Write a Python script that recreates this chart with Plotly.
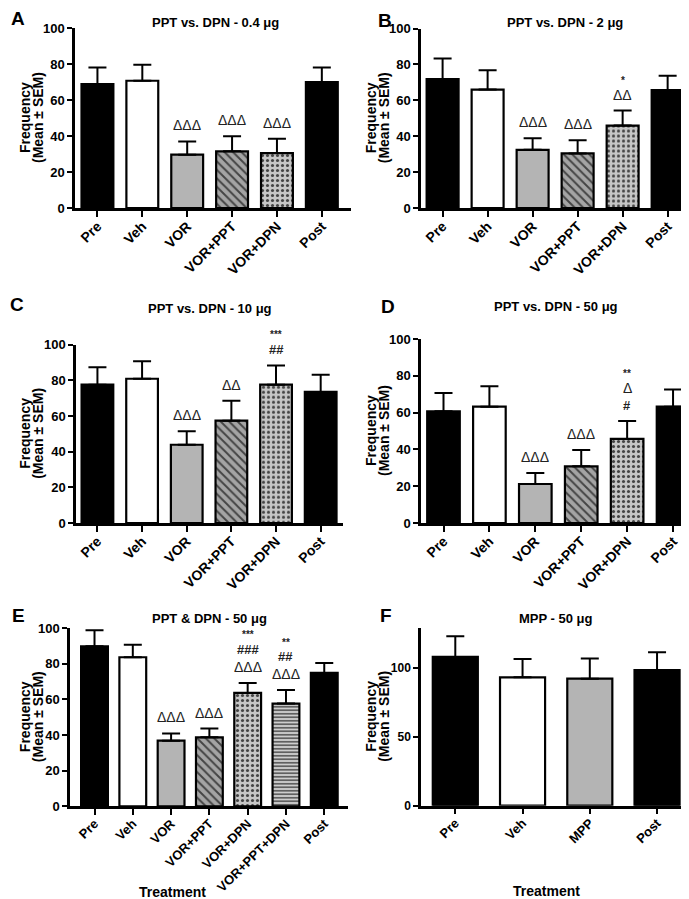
import plotly.graph_objects as go

FONT = "Liberation Sans, Arial, sans-serif"
W, H = 689, 899

# ---------------- data ----------------
cats6 = ["Pre", "Veh", "VOR", "VOR+PPT", "VOR+DPN", "Post"]
cats7 = ["Pre", "Veh", "VOR", "VOR+PPT", "VOR+DPN", "VOR+PPT+DPN", "Post"]
cats4 = ["Pre", "Veh", "MPP", "Post"]

a_mean = [68.9, 70.7, 29.6, 31.5, 30.5, 70.0]
a_sem = [9.2, 8.9, 7.4, 8.3, 8.0, 8.0]
a_sig = [[], [], ["ΔΔΔ"], ["ΔΔΔ"], ["ΔΔΔ"], []]

b_mean = [71.8, 66.0, 32.4, 30.4, 45.9, 65.7]
b_sem = [11.5, 10.7, 6.5, 7.4, 8.4, 8.0]
b_sig = [[], [], ["ΔΔΔ"], ["ΔΔΔ"], ["*", "ΔΔ"], []]

c_mean = [77.6, 80.9, 43.9, 57.4, 77.6, 73.5]
c_sem = [9.7, 9.8, 7.5, 11.2, 10.8, 9.7]
c_sig = [[], [], ["ΔΔΔ"], ["ΔΔ"], ["***", "##"], []]

d_mean = [60.7, 63.2, 21.2, 30.8, 45.7, 63.2]
d_sem = [10.0, 11.1, 6.0, 8.9, 9.7, 9.4]
d_sig = [[], [], ["ΔΔΔ"], ["ΔΔΔ"], ["**", "Δ", "#"], []]

e_mean = [89.7, 83.6, 36.8, 38.7, 63.6, 57.6, 74.8]
e_sem = [9.0, 7.0, 4.1, 4.9, 5.6, 7.6, 5.6]
e_sig = [[], [], ["ΔΔΔ"], ["ΔΔΔ"], ["***", "###", "ΔΔΔ"], ["**", "##", "ΔΔΔ"], []]

f_mean = [108.0, 93.2, 92.2, 98.5]
f_sem = [15.0, 13.3, 14.6, 12.9]
f_sig = [[], [], [], []]

titles = ["PPT vs. DPN - 0.4 μg", "PPT vs. DPN - 2 μg", "PPT vs. DPN - 10 μg",
          "PPT vs. DPN - 50 μg", "PPT & DPN - 50 μg", "MPP - 50 μg"]
letters = ["A", "B", "C", "D", "E", "F"]
y_ticks_main = [0, 20, 40, 60, 80, 100]
y_ticks_f = [0, 50, 100]

# ---------------- styles per treatment ----------------
STYLE = {
    "Pre": dict(color="black", shape="", fg="black", size=8, sol=0.3),
    "Post": dict(color="black", shape="", fg="black", size=8, sol=0.3),
    "Veh": dict(color="white", shape="", fg="white", size=8, sol=0.3),
    "VOR": dict(color="#b4b4b4", shape="", fg="#b4b4b4", size=8, sol=0.3),
    "MPP": dict(color="#b4b4b4", shape="", fg="#b4b4b4", size=8, sol=0.3),
    "VOR+PPT": dict(color="#a4a4a4", shape="\\", fg="#111111", size=6, sol=0.32),
    "VOR+DPN": dict(color="#c6c6c6", shape=".", fg="#7a7a7a", size=5, sol=0.3),
    "VOR+PPT+DPN": dict(color="#cdcdcd", shape="-", fg="#555555", size=3.5, sol=0.4),
}

# ---------------- panel geometry (pixels) ----------------
panels = [
    dict(cats=cats6, mean=a_mean, sem=a_sem, sig=a_sig, x=(67, 343), y=(20, 200),
         xr=[-0.5, 5.65], yr=[0, 100], yt=y_ticks_main, bw=0.71, tf=14),
    dict(cats=cats6, mean=b_mean, sem=b_sem, sig=b_sig, x=(413, 688), y=(20.5, 200),
         xr=[-0.48, 5.63], yr=[0, 100], yt=y_ticks_main, bw=0.71, tf=14),
    dict(cats=cats6, mean=c_mean, sem=c_sem, sig=c_sig, x=(68, 335), y=(336.7, 515),
         xr=[-0.48, 5.5], yr=[0, 100], yt=y_ticks_main, bw=0.71, tf=14),
    dict(cats=cats6, mean=d_mean, sem=d_sem, sig=d_sig, x=(413, 688), y=(331, 515),
         xr=[-0.49, 5.5], yr=[0, 100], yt=y_ticks_main, bw=0.71, tf=14),
    dict(cats=cats7, mean=e_mean, sem=e_sem, sig=e_sig, x=(62, 340), y=(620, 798.3),
         xr=[-0.64, 6.62], yr=[0, 100], yt=y_ticks_main, bw=0.70, tf=13),
    dict(cats=cats4, mean=f_mean, sem=f_sem, sig=f_sig, x=(413, 682), y=(620, 797.7),
         xr=[-0.51, 3.49], yr=[0, 129], yt=y_ticks_f, bw=0.67, tf=13),
]
title_pos = [(207, 15), (557, 15), (202, 301), (548, 298), (202, 610), (548, 610)]
letter_pos = [(10, 11), (377, 12), (9, 297), (380, 298), (10, 607), (378, 607)]
ytitle_x = [(17, 30), (363, 376), (17, 30), (363, 376), (17, 30), (363, 376)]
treat_pos = [(164, 884), (538, 883)]


def fx(px):
    return px / W


def fy(py):
    return 1 - py / H


fig = go.Figure()
annotations = []
layout = {}

for i, p in enumerate(panels):
    n = i + 1
    xa = "x" if n == 1 else f"x{n}"
    ya = "y" if n == 1 else f"y{n}"
    st = [STYLE[c] for c in p["cats"]]
    fig.add_trace(go.Bar(
        x=p["cats"], y=p["mean"], xaxis=xa, yaxis=ya, width=p["bw"],
        marker=dict(
            color=[s["color"] for s in st],
            line=dict(color="black", width=2.2),
            pattern=dict(shape=[s["shape"] for s in st],
                         fgcolor=[s["fg"] for s in st],
                         size=[s["size"] for s in st],
                         solidity=[s["sol"] for s in st],
                         fgopacity=1,
                         fillmode="overlay"),
        ),
        error_y=dict(type="data", symmetric=False, array=p["sem"],
                     arrayminus=[0] * len(p["sem"]), color="black",
                     thickness=2, width=9),
        showlegend=False, hoverinfo="skip",
    ))
    small = (n == 6)
    layout[f"xaxis{n}" if n > 1 else "xaxis"] = dict(
        domain=[fx(p["x"][0]), fx(p["x"][1])], anchor=ya,
        range=p["xr"], type="category",
        showline=True, linewidth=2.5, linecolor="black",
        ticks="outside", ticklen=6, tickwidth=2, tickcolor="black",
        tickangle=-45, showgrid=False, zeroline=False, automargin=False,
        ticklabelstandoff=-4,
        tickfont=dict(family=FONT, size=p["tf"], color="black", weight="bold"),
    )
    layout[f"yaxis{n}" if n > 1 else "yaxis"] = dict(
        domain=[fy(p["y"][1]), fy(p["y"][0])], anchor=xa,
        range=p["yr"], tickvals=p["yt"],
        showline=True, linewidth=2.5, linecolor="black",
        ticks="outside", ticklen=5, tickwidth=2, tickcolor="black",
        showgrid=False, zeroline=False, automargin=False,
        tickfont=dict(family=FONT, size=12 if small else 13, color="black", weight="bold"),
    )
    # significance marks, stacked upward from the error-bar cap
    for c, m, s, marks in zip(p["cats"], p["mean"], p["sem"], p["sig"]):
        for k, txt in enumerate(reversed(marks)):
            if txt.startswith("*"):
                f = dict(family=FONT, size=10, color="#222", weight="bold")
                extra = -3
            elif txt.startswith("#"):
                f = dict(family=FONT, size=13, color="#222", weight="bold")
                extra = 0
            else:
                f = dict(family=FONT, size=14, color="#222")
                extra = 0
            annotations.append(dict(
                x=c, y=m + s, xref=xa, yref=ya, text=txt, showarrow=False,
                yanchor="middle", xanchor="center", yshift=16 + 17.5 * k + extra,
                font=f))
    # panel title
    tx, ty = title_pos[i]
    annotations.append(dict(x=fx(tx), y=fy(ty), xref="paper", yref="paper",
                            text=titles[i], showarrow=False, xanchor="center",
                            yanchor="middle",
                            font=dict(family=FONT, size=13, color="black", weight="bold")))
    lx, ly = letter_pos[i]
    annotations.append(dict(x=fx(lx), y=fy(ly), xref="paper", yref="paper",
                            text=letters[i], showarrow=False, xanchor="center",
                            yanchor="middle",
                            font=dict(family=FONT, size=19, color="black", weight="bold")))
    # y-axis titles
    cy = (p["y"][0] + p["y"][1]) / 2
    for txt, xx in zip(["Frequency", "(Mean ± SEM)"], ytitle_x[i]):
        annotations.append(dict(x=fx(xx), y=fy(cy), xref="paper", yref="paper",
                                text=txt, showarrow=False, textangle=-90,
                                xanchor="center", yanchor="middle",
                                font=dict(family=FONT, size=14, color="black", weight="bold")))

for tx, ty in treat_pos:
    annotations.append(dict(x=fx(tx), y=fy(ty), xref="paper", yref="paper",
                            text="Treatment", showarrow=False, xanchor="center",
                            yanchor="middle",
                            font=dict(family=FONT, size=14, color="black", weight="bold")))

fig.update_layout(
    width=W, height=H, margin=dict(l=0, r=0, t=0, b=0),
    paper_bgcolor="white", plot_bgcolor="white",
    annotations=annotations, bargap=0.3,
    font=dict(family=FONT, color="black"),
    **layout,
)

fig.write_html("out.html")
